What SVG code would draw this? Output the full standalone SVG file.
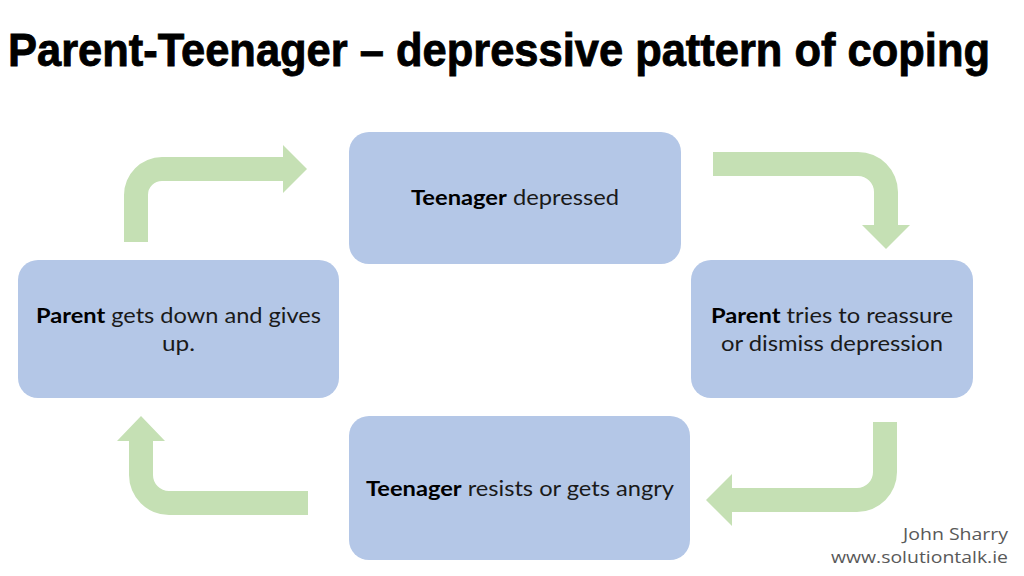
<svg xmlns="http://www.w3.org/2000/svg" width="1024" height="576" viewBox="0 0 1024 576">
<style>
.title{font-family:"Liberation Sans",Arial,sans-serif;font-weight:bold;font-size:43px;fill:#000;stroke:#000;stroke-width:0.8}
.box{fill:#b4c7e7}
.lbl{font-family:Lato,"Open Sans",sans-serif;font-size:21px;fill:#1a1a1a}
.b{font-weight:bold;fill:#000}
.arrow{fill:#c5e0b4}
.foot{font-family:"Open Sans","DejaVu Sans",sans-serif;font-size:17px;fill:#595959}
</style>
<rect width="1024" height="576" fill="#fff"/>
<text class="title" x="8" y="0" transform="translate(0,66) scale(1,1.09)" textLength="982" lengthAdjust="spacingAndGlyphs">Parent-Teenager – depressive pattern of coping</text>
<g id="connectors">
<path class="arrow" d="M124,242 V195 A38,38 0 0 1 162,157 H283 V145 L307,169 L283,193 V181 H162 A14,14 0 0 0 148,195 V242 Z"/>
<path class="arrow" d="M713,152 H858 A40,40 0 0 1 898,192 V225 H910 L886,249 L862,225 H874 V192 A16,16 0 0 0 858,176 H713 Z"/>
<path class="arrow" d="M873,422 H897 V472 A40,40 0 0 1 857,512 H732 V526 L706,500 L732,474 V488 H857 A16,16 0 0 0 873,472 Z"/>
<path class="arrow" d="M308,491 V515 H169 A40,40 0 0 1 129,475 V441 H117 L141,416 L165,441 H153 V475 A16,16 0 0 0 169,491 Z"/>
</g>
<g id="node-top">
<rect class="box" x="349" y="132" width="332" height="132" rx="20"/>
<text class="lbl" x="411" y="205" textLength="208" lengthAdjust="spacingAndGlyphs"><tspan class="b">Teenager</tspan> depressed</text>
</g>
<g id="node-right">
<rect class="box" x="691" y="260" width="282" height="138" rx="20"/>
<text class="lbl" x="711" y="323" textLength="242" lengthAdjust="spacingAndGlyphs"><tspan class="b">Parent</tspan> tries to reassure</text>
<text class="lbl" x="721" y="351" textLength="222" lengthAdjust="spacingAndGlyphs">or dismiss depression</text>
</g>
<g id="node-bottom">
<rect class="box" x="349" y="416" width="341" height="144" rx="20"/>
<text class="lbl" x="366" y="496" textLength="308" lengthAdjust="spacingAndGlyphs"><tspan class="b">Teenager</tspan> resists or gets angry</text>
</g>
<g id="node-left">
<rect class="box" x="18" y="260" width="321" height="138" rx="20"/>
<text class="lbl" x="36" y="323" textLength="285" lengthAdjust="spacingAndGlyphs"><tspan class="b">Parent</tspan> gets down and gives</text>
<text class="lbl" x="162" y="351" textLength="33" lengthAdjust="spacingAndGlyphs">up.</text>
</g>
<g id="footer">
<text class="foot" x="903" y="540" textLength="105" lengthAdjust="spacingAndGlyphs">John Sharry</text>
<text class="foot" x="831" y="563" textLength="177" lengthAdjust="spacingAndGlyphs">www.solutiontalk.ie</text>
</g>
</svg>
